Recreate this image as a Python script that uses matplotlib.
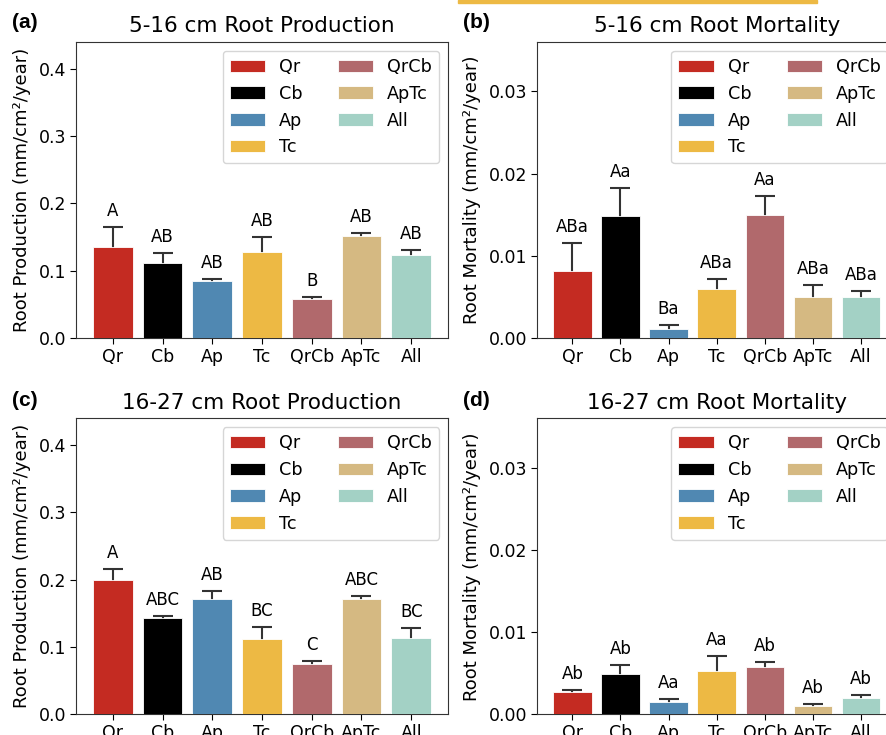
import matplotlib
matplotlib.use("Agg")
import matplotlib.pyplot as plt
from matplotlib.patches import Rectangle
import numpy as np

categories = ["Qr", "Cb", "Ap", "Tc", "QrCb", "ApTc", "All"]
colors = ["#C42B22", "#000000", "#5088B2", "#EDB944", "#B1696C", "#D5B982", "#A3D1C5"]

prod_5_16 = [0.136, 0.112, 0.084, 0.128, 0.058, 0.152, 0.124]
prod_5_16_err = [0.029, 0.014, 0.0035, 0.022, 0.003, 0.004, 0.007]
prod_5_16_letters = ["A", "AB", "AB", "AB", "B", "AB", "AB"]

mort_5_16 = [0.0082, 0.0148, 0.00106, 0.0059, 0.0149, 0.0050, 0.0050]
mort_5_16_err = [0.0033, 0.0034, 0.00056, 0.0013, 0.0024, 0.0014, 0.0007]
mort_5_16_letters = ["ABa", "Aa", "Ba", "ABa", "Aa", "ABa", "ABa"]

prod_16_27 = [0.199, 0.143, 0.172, 0.1115, 0.0753, 0.171, 0.1135]
prod_16_27_err = [0.017, 0.0035, 0.012, 0.018, 0.0035, 0.005, 0.015]
prod_16_27_letters = ["A", "ABC", "AB", "BC", "C", "ABC", "BC"]

mort_16_27 = [0.00272, 0.0049, 0.00154, 0.00524, 0.0058, 0.00101, 0.00195]
mort_16_27_err = [0.0002, 0.00115, 0.0003, 0.0019, 0.0006, 0.0003, 0.0004]
mort_16_27_letters = ["Ab", "Ab", "Aa", "Aa", "Ab", "Ab", "Ab"]

titles = ["5-16 cm Root Production", "5-16 cm Root Mortality",
          "16-27 cm Root Production", "16-27 cm Root Mortality"]
panel_labels = ["(a)", "(b)", "(c)", "(d)"]
ylabels = ["Root Production (mm/cm²/year)", "Root Mortality (mm/cm²/year)",
           "Root Production (mm/cm²/year)", "Root Mortality (mm/cm²/year)"]

W, H = 886, 735
fig = plt.figure(figsize=(W / 100, H / 100), dpi=100)

def px_axes(left, top, right, bottom):
    return [left / W, 1 - bottom / H, (right - left) / W, (bottom - top) / H]

positions = [
    px_axes(76, 42, 448, 338),
    px_axes(536.7, 42, 896.7, 338),
    px_axes(76, 418.3, 448, 714.3),
    px_axes(536.7, 418.3, 896.7, 714.3),
]
label_pos = [(12, 22.5), (463, 22.5), (12, 400), (463, 400)]
ylab_x = [31, 481, 31, 481]

datasets = [
    (prod_5_16, prod_5_16_err, prod_5_16_letters, 0.44, [0.0, 0.1, 0.2, 0.3, 0.4], "{:.1f}"),
    (mort_5_16, mort_5_16_err, mort_5_16_letters, 0.036, [0.0, 0.01, 0.02, 0.03], "{:.2f}"),
    (prod_16_27, prod_16_27_err, prod_16_27_letters, 0.44, [0.0, 0.1, 0.2, 0.3, 0.4], "{:.1f}"),
    (mort_16_27, mort_16_27_err, mort_16_27_letters, 0.036, [0.0, 0.01, 0.02, 0.03], "{:.2f}"),
]

x = np.arange(len(categories))
for i, (vals, errs, letters, ytop, yt, fmt) in enumerate(datasets):
    ax = fig.add_axes(positions[i])
    bars = ax.bar(x, vals, width=0.8, color=colors, edgecolor="white",
                  linewidth=0.6, zorder=3)
    ax.errorbar(x, vals, yerr=errs, fmt="none", ecolor="#333333",
                elinewidth=1.5, capsize=7.5, capthick=1.5, zorder=2)
    for xi, v, e, t in zip(x, vals, errs, letters):
        ax.annotate(t, (xi, v + e), xytext=(0, 5), textcoords="offset points",
                    ha="center", va="bottom", fontsize=12)
    ax.set_xlim(-0.74, 6.74)
    ax.set_ylim(0, ytop)
    ax.set_yticks(yt)
    ax.set_yticklabels([fmt.format(v) for v in yt])
    ax.set_xticks(x)
    ax.set_xticklabels(categories)
    ax.tick_params(labelsize=12.5, length=4, pad=3)
    for s in ax.spines.values():
        s.set_color("#333333")
    ax.set_title(titles[i], fontsize=15.5, pad=7)
    ax.set_ylabel(ylabels[i], fontsize=13)
    ax.yaxis.set_label_coords((ylab_x[i] - positions[i][0] * W) / (positions[i][2] * W), 0.5)
    ax.legend(bars.patches, categories, ncol=2, loc="upper right", fontsize=12.7)
    fig.text(label_pos[i][0] / W, 1 - label_pos[i][1] / H, panel_labels[i],
             fontsize=15, fontweight="bold", family="Liberation Sans", va="center", ha="left")

fig.patches.append(Rectangle((458 / W, 1 - 3 / H), (817 - 458) / W, 3 / H,
                             transform=fig.transFigure, color="#EDB944", zorder=5))

fig.savefig("out.png", dpi=100)
